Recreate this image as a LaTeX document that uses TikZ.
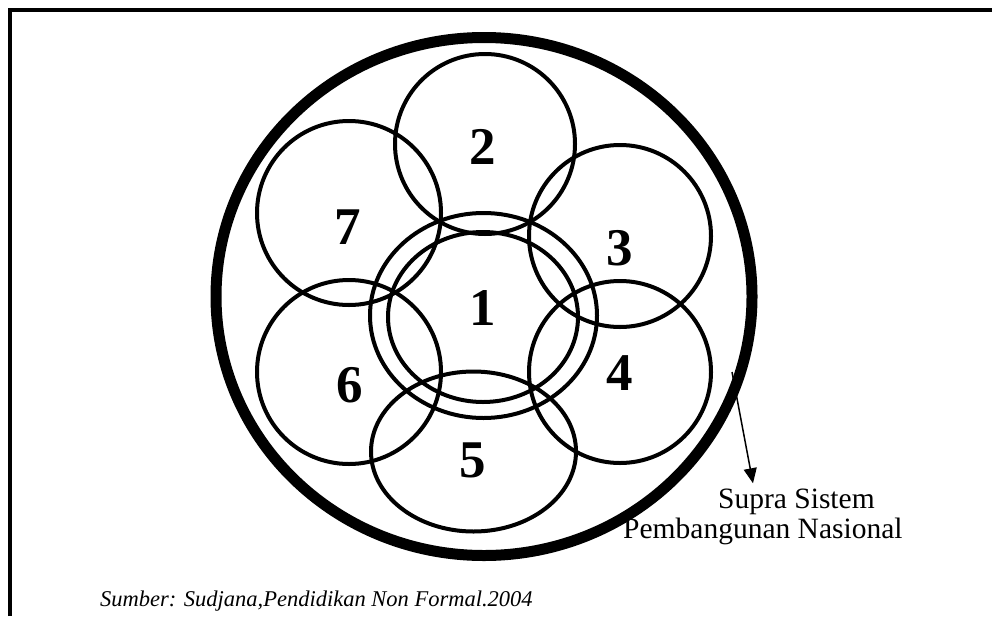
\documentclass[tikz,border=0pt]{standalone}
\usepackage{fontspec}
\setmainfont{Liberation Serif}
\usetikzlibrary{arrows.meta}

\begin{document}
\begin{tikzpicture}[
  x=1pt, y=-1pt,
  ring/.style={line width=4pt},
  outer/.style={line width=11pt},
  num/.style={font=\fontsize{53}{60}\selectfont\bfseries, inner sep=0pt},
  lbl/.style={font=\fontsize{29.5}{34}\selectfont, inner sep=0pt, anchor=base west},
  src/.style={font=\fontsize{22.5}{26}\selectfont\itshape, inner sep=0pt, anchor=base west},
  arr/.style={-{Triangle[length=15pt,width=13pt]}, line width=1.5pt}
]
\useasboundingbox (0,0) rectangle (992,616);
\draw[line width=4pt] (10,616) -- (10,10) -- (992,10);

\draw[outer] (484,296.5) ellipse [x radius=268pt, y radius=259pt];
\draw[ring] (483.5,315.5) ellipse [x radius=113.5pt, y radius=102.5pt];
\draw[ring] (483,317) ellipse [x radius=95pt, y radius=85pt];
\draw[ring] (485,144) circle (90pt);
\draw[ring] (620,236) circle (91pt);
\draw[ring] (620,372) circle (91pt);
\draw[ring] (473.5,451.5) ellipse [x radius=102.5pt, y radius=80pt];
\draw[ring] (349,372) circle (92pt);
\draw[ring] (349,213) circle (92pt);

\node[num] (n1) at (483,308) {1};
\node[num] (n2) at (483,147) {2};
\node[num] (n3) at (620,248) {3};
\node[num] (n4) at (620,373) {4};
\node[num] (n5) at (473,460) {5};
\node[num] (n6) at (350,385) {6};
\node[num] (n7) at (348,227) {7};

\node[lbl] (supra) at (718,508) {Supra Sistem};
\node[lbl] (pemb) at (623,538) {Pembangunan Nasional};
\node[src] (sumber) at (100,606) {Sumber: Sudjana,Pendidikan Non Formal.2004};

\coordinate (tail) at (732,372);
\draw[arr] (tail) -- ([shift={(35pt,5pt)}]supra.north west);
\end{tikzpicture}
\end{document}
